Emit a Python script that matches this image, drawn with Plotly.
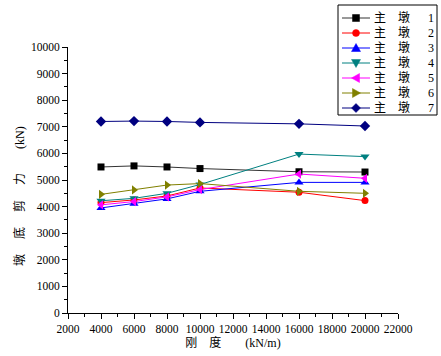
import plotly.graph_objects as go

stiffness = [4000, 6000, 8000, 10000, 16000, 20000]
pier1 = [5490, 5530, 5490, 5430, 5310, 5300]
pier2 = [4150, 4250, 4400, 4700, 4540, 4225]
pier3 = [3950, 4110, 4290, 4575, 4910, 4910]
pier4 = [4220, 4310, 4500, 4830, 5975, 5880]
pier5 = [4065, 4190, 4365, 4640, 5225, 5065]
pier6 = [4460, 4625, 4810, 4865, 4575, 4500]
pier7 = [7200, 7215, 7200, 7165, 7110, 7030]

names = ["主\u3000墩\u3000\u20021", "主\u3000墩\u3000\u20022", "主\u3000墩\u3000\u20023",
         "主\u3000墩\u3000\u20024", "主\u3000墩\u3000\u20025", "主\u3000墩\u3000\u20026",
         "主\u3000墩\u3000\u20027"]
series = [pier1, pier2, pier3, pier4, pier5, pier6, pier7]
colors = ["#000000", "#ff0000", "#0000ff", "#008080", "#ff00ff", "#808000", "#000080"]
line_colors = ["#333333", "#ff0000", "#0000ff", "#008080", "#ff00ff", "#808000", "#000080"]
symbols = ["square", "circle", "triangle-up", "triangle-down", "triangle-left",
           "triangle-right", "diamond"]
sizes = [7, 7, 8, 8, 8, 8, 8]

x_title = "刚\u3000度\u3000\u3000(kN/m)"
y_title = "墩\u3000\u2005底\u3000\u2005剪\u3000\u2005力\u3000\u3000(kN)"

# plot area in pixels
PL, PR, PT, PB = 68, 398, 47, 313
W, H = PR - PL, PB - PT


def px(x):
    return (x - PL) / W


def py(y):
    return (PB - y) / H


fig = go.Figure()
for nm, ys, c, lc, s, sz in zip(names, series, colors, line_colors, symbols, sizes):
    fig.add_trace(go.Scatter(
        x=stiffness, y=ys, name=nm, mode="lines+markers",
        line=dict(color=lc, width=1),
        marker=dict(symbol=s, color=c, size=sz),
        showlegend=False,
    ))

# legend box drawn as layout decoration (compact like the original)
shapes = [dict(type="rect", xref="paper", yref="paper",
               x0=px(338), x1=px(437), y0=py(115), y1=py(5),
               line=dict(color="#000000", width=1), fillcolor="white", layer="above")]
annotations = []
marker_paths = {
    "square": "M-3.5,-3.5 L3.5,-3.5 L3.5,3.5 L-3.5,3.5 Z",
    "triangle-up": "M-4.5,-3.5 L4.5,-3.5 L0,4.5 Z",
    "triangle-down": "M-4.5,3.5 L4.5,3.5 L0,-4.5 Z",
    "triangle-left": "M3.5,-4.5 L3.5,4.5 L-4.5,0 Z",
    "triangle-right": "M-3.5,-4.5 L-3.5,4.5 L4.5,0 Z",
    "diamond": "M0,-4.5 L4.5,0 L0,4.5 L-4.5,0 Z",
}
for i, (nm, c, lc, s) in enumerate(zip(names, colors, line_colors, symbols)):
    yc = 18 + 15 * i
    shapes.append(dict(type="line", xref="paper", yref="paper",
                       x0=px(342), x1=px(370), y0=py(yc), y1=py(yc),
                       line=dict(color=lc, width=1), layer="above"))
    if s == "circle":
        shapes.append(dict(type="circle", xref="paper", yref="paper",
                           xsizemode="pixel", ysizemode="pixel",
                           xanchor=px(356), yanchor=py(yc),
                           x0=-3.5, x1=3.5, y0=-3.5, y1=3.5,
                           line=dict(color=c, width=0.5), fillcolor=c, layer="above"))
    else:
        shapes.append(dict(type="path", xref="paper", yref="paper",
                           xsizemode="pixel", ysizemode="pixel",
                           xanchor=px(356), yanchor=py(yc),
                           path=marker_paths[s],
                           line=dict(color=c, width=0.5), fillcolor=c, layer="above"))
    annotations.append(dict(xref="paper", yref="paper", x=px(437), y=py(yc),
                            xanchor="right", yanchor="middle", showarrow=False,
                            text=nm, font=dict(size=12), xshift=-1))

# y-axis title placed like the original (slightly below centre)
annotations.append(dict(xref="paper", yref="paper", x=px(19), y=py(196),
                        xanchor="center", yanchor="middle", showarrow=False,
                        textangle=-90, text=y_title, font=dict(size=12)))

serif = "'Liberation Serif', 'Noto Sans CJK SC', serif"
fig.update_layout(
    width=441, height=356,
    margin=dict(l=PL, r=441 - PR, t=PT, b=356 - PB, autoexpand=False),
    paper_bgcolor="white", plot_bgcolor="white",
    font=dict(family=serif, size=11.5, color="#000000"),
    showlegend=False,
    shapes=shapes,
    annotations=annotations,
    xaxis=dict(
        range=[2000, 22000], dtick=2000, tick0=2000, tickformat="d",
        showgrid=False, zeroline=False,
        showline=True, linecolor="#000000", linewidth=1,
        ticks="outside", ticklen=5, tickcolor="#000000",
        minor=dict(ticks="outside", ticklen=3, dtick=1000, tickcolor="#000000", showgrid=False),
        title=dict(text=x_title, font=dict(size=12), standoff=3),
        tickfont=dict(size=11.5),
    ),
    yaxis=dict(
        range=[0, 10000], dtick=1000, tickformat="d",
        showgrid=False, zeroline=False,
        showline=True, linecolor="#000000", linewidth=1,
        ticks="outside", ticklen=5, tickcolor="#000000",
        minor=dict(ticks="outside", ticklen=3, dtick=500, tickcolor="#000000", showgrid=False),
        tickfont=dict(size=11.5),
    ),
)

fig.write_html("out.html",
               config={"displayModeBar": False},
               post_script="document.body.style.margin='0';document.body.style.overflow='hidden';")
